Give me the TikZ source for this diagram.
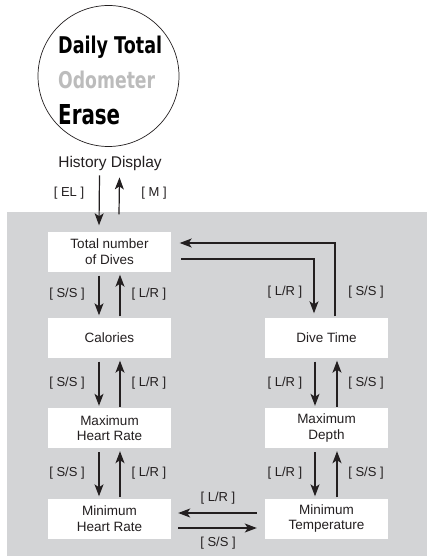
\documentclass[tikz,border=0pt]{standalone}
\usepackage{fontspec}
\setmainfont{Liberation Sans}
\newfontfamily\lcdfont{DejaVu Sans}
\usetikzlibrary{arrows.meta}
\definecolor{panelgray}{RGB}{211,212,214}
\definecolor{odogray}{RGB}{188,188,188}
\definecolor{ink}{RGB}{35,31,32}
\begin{document}
\begin{tikzpicture}[x=1pt,y=-1pt,
  box/.style={fill=white, minimum width=123pt, minimum height=40pt, inner sep=0pt,
    align=center, text=ink, font=\fontsize{13.5}{15.5}\selectfont},
  lab/.style={inner sep=0pt, text=ink, font=\fontsize{13}{15}\selectfont},
  arr/.style={draw=ink, line width=1.2pt, -{Stealth[length=12pt,width=9pt,inset=3pt]}},
  lcd/.style={anchor=base west, inner sep=0pt, font=\lcdfont\bfseries}]
\useasboundingbox (0,0) rectangle (427,556);
\fill[panelgray] (7,212) rectangle (427,556);

% display circle
\node[circle, draw=ink, line width=0.7pt, minimum size=141pt, inner sep=0pt] (disp) at (108.5,76) {};
\node[lcd] (l1) at (58,54) {\resizebox{104pt}{17.5pt}{Daily Total}};
\node[lcd, text=odogray] (l2) at (58,89) {\resizebox{97pt}{17.5pt}{Odometer}};
\node[lcd] (l3) at (58,125) {\resizebox{62pt}{20pt}{Erase}};
\node[inner sep=2pt, text=ink, font=\fontsize{15.5}{17}\selectfont] (hist) at (110,163) {History Display};

% boxes
\node[box] (tot) at (109.5,251.5) {Total number\\of Dives};
\node[box] (cal) at (109.5,337.5) {Calories};
\node[box] (mxh) at (109.5,428) {Maximum\\Heart Rate};
\node[box] (mnh) at (109.5,518.5) {Minimum\\Heart Rate};
\node[box] (dt)  at (326.5,337.5) {Dive Time};
\node[box] (mxd) at (326.5,428) {Maximum\\Depth};
\node[box] (mnt) at (326.5,518.5) {Minimum\\Temperature};

% entry / exit
\draw[arr] ([xshift=-10.5pt,yshift=-3pt]hist.south) -- ([xshift=-10.5pt,yshift=6pt]tot.north);
\draw[arr] ([xshift=9.5pt,yshift=17pt]tot.north) -- ([xshift=9.5pt,yshift=-5pt]hist.south);
\node[lab] (el) at (69,193) {[ EL ]};
\node[lab] (m) at (154,193) {[ M ]};

% left column
\foreach \a/\b/\y in {tot/cal/294, cal/mxh/383, mxh/mnh/473.5}{
  \draw[arr] ([xshift=-10.5pt,yshift=-4pt]\a.south) -- ([xshift=-10.5pt,yshift=2pt]\b.north);
  \draw[arr] ([xshift=10.5pt,yshift=1pt]\b.north) -- ([xshift=10.5pt,yshift=-3pt]\a.south);
  \node[lab] at (67,\y) {[ S/S ]};
  \node[lab] at (149,\y) {[ L/R ]};
}
% right column
\foreach \a/\b/\y in {dt/mxd/383, mxd/mnt/473.5}{
  \draw[arr] ([xshift=-11.5pt,yshift=-4pt]\a.south) -- ([xshift=-11.5pt,yshift=2pt]\b.north);
  \draw[arr] ([xshift=10.5pt,yshift=1pt]\b.north) -- ([xshift=10.5pt,yshift=-3pt]\a.south);
  \node[lab] at (285,\y) {[ L/R ]};
  \node[lab] at (366,\y) {[ S/S ]};
}

% loop between Total and Dive Time
\draw[arr] ([xshift=10pt,yshift=-7.5pt]tot.east) -| ([xshift=-12.5pt,yshift=4pt]dt.north);
\draw[arr] ([xshift=8.5pt,yshift=1pt]dt.north) |- ([xshift=8.5pt,yshift=8.5pt]tot.east);
\node[lab] at (285,292) {[ L/R ]};
\node[lab] at (366,292) {[ S/S ]};

% bottom pair
\draw[arr] ([xshift=-8pt,yshift=5.5pt]mnt.west) -- ([xshift=7pt,yshift=5.5pt]mnh.east);
\draw[arr] ([xshift=7pt,yshift=-9.5pt]mnh.east) -- ([xshift=-8pt,yshift=-9.5pt]mnt.west);
\node[lab] at (218,498) {[ L/R ]};
\node[lab] at (218,543) {[ S/S ]};
\end{tikzpicture}
\end{document}
